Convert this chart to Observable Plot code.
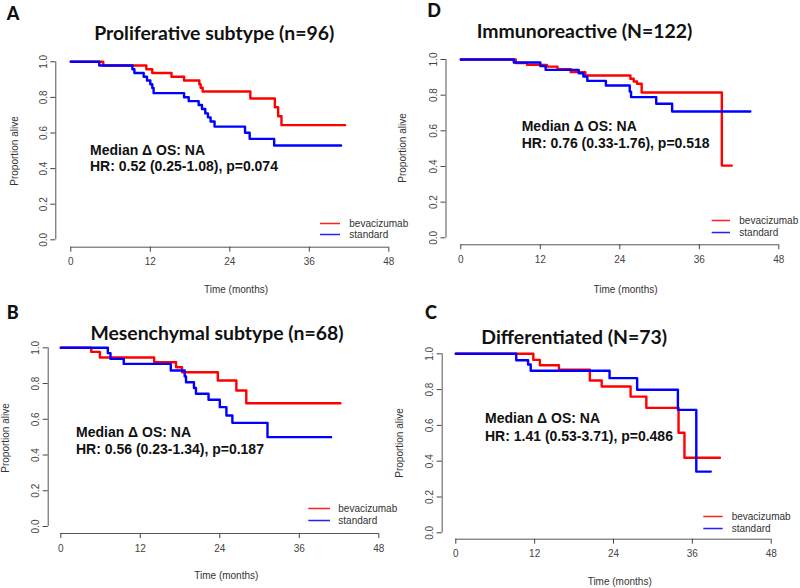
<!DOCTYPE html>
<html>
<head>
<meta charset="utf-8">
<script src="https://cdn.jsdelivr.net/npm/d3@7"></script>
<script src="https://cdn.jsdelivr.net/npm/@observablehq/plot@0.6"></script>
<style>
  body { margin: 0; background: #fff; }
  #fig { position: relative; width: 800px; height: 588px; overflow: hidden; background: #fff;
         font-family: "Liberation Sans", Arial, sans-serif; }
  .abs { position: absolute; white-space: nowrap; line-height: 1; }
  .c { transform: translate(-50%, -50%); }
  .lc { transform: translate(0, -50%); }
  .title { font-family: Lato, "Open Sans", sans-serif; font-weight: 700; font-size: 19.4px; color: #111; }
  .letter { font-family: Lato, sans-serif; font-weight: 900; font-size: 18px; color: #111; }
  .ann { font-weight: 700; font-size: 14px; color: #111; }
  .lab { font-size: 10px; color: #333; }
  .ylab { transform: translate(-50%, -50%) rotate(-90deg); }
  .leg { font-size: 10px; color: #333; }
  .legsvg { position: absolute; left: 0; top: 0; pointer-events: none; }
</style>
</head>
<body>
<div id="fig"></div>
<script>
// ---------- data ----------
const xTicks = [0, 12, 24, 36, 48];
const yTicks = [0, 0.2, 0.4, 0.6, 0.8, 1.0];
const seriesNames = ["bevacizumab", "standard"];
const seriesColors = ["#ff0000", "#0000ff"];
const legendColors = ["#ff2020", "#2020ff"];
const panelLetters = ["A", "D", "B", "C"];
const panelTitles = ["Proliferative subtype (n=96)", "Immunoreactive (N=122)", "Mesenchymal subtype (n=68)", "Differentiated (N=73)"];
const medianTexts = ["Median \u0394 OS: NA", "Median \u0394 OS: NA", "Median \u0394 OS: NA", "Median \u0394 OS: NA"];
const hrTexts = ["HR: 0.52 (0.25-1.08), p=0.074", "HR: 0.76 (0.33-1.76), p=0.518", "HR: 0.56 (0.23-1.34), p=0.187", "HR: 1.41 (0.53-3.71), p=0.486"];
const xLabel = "Time (months)";
const yLabel = "Proportion alive";

// Panel A: Proliferative
const A_bev_t = [0, 4.9, 11.4, 12.3, 15.2, 17.1, 19.4, 19.6, 19.9, 27.1, 30.8, 31.3, 31.8, 41.4];
const A_bev_s = [1, 0.979, 0.958, 0.937, 0.916, 0.895, 0.874, 0.854, 0.833, 0.794, 0.745, 0.694, 0.644, 0.644];
const A_std_t = [0, 4.3, 9.3, 9.6, 11.0, 11.5, 12.0, 12.3, 12.5, 17.1, 17.8, 19.3, 19.8, 20.3, 20.7, 21.1, 21.7, 26.3, 27.0, 30.7, 40.8];
const A_std_s = [1, 0.979, 0.958, 0.937, 0.916, 0.895, 0.874, 0.853, 0.824, 0.801, 0.779, 0.757, 0.735, 0.71, 0.688, 0.665, 0.636, 0.601, 0.567, 0.530, 0.530];
// Panel D: Immunoreactive
const D_bev_t = [0, 8.3, 10.0, 13.0, 14.6, 16.6, 18.8, 25.6, 26.1, 26.6, 27.3, 39.4, 40.9];
const D_bev_s = [1, 0.98, 0.97, 0.96, 0.946, 0.929, 0.91, 0.892, 0.877, 0.864, 0.815, 0.405, 0.405];
const D_std_t = [0, 8.0, 12.0, 12.8, 17.8, 18.5, 19.1, 21.9, 25.5, 25.7, 29.5, 31.9, 43.7];
const D_std_s = [1, 0.983, 0.963, 0.942, 0.923, 0.905, 0.88, 0.854, 0.82, 0.789, 0.752, 0.708, 0.708];
// Panel B: Mesenchymal
const B_bev_t = [0, 4.6, 5.9, 14.1, 17.4, 18.3, 23.7, 26.5, 28.0, 42.2];
const B_bev_s = [1, 0.977, 0.946, 0.919, 0.891, 0.863, 0.817, 0.761, 0.690, 0.690];
const B_std_t = [0, 7.1, 7.5, 9.5, 16.6, 18.7, 18.9, 20.1, 20.4, 22.3, 24.0, 25.0, 25.9, 31.2, 40.8];
const B_std_s = [1, 0.97, 0.938, 0.91, 0.873, 0.84, 0.807, 0.775, 0.743, 0.709, 0.668, 0.621, 0.58, 0.50, 0.50];
// Panel C: Differentiated
const C_bev_t = [0, 11.8, 12.8, 15.7, 20.4, 22.2, 26.6, 29.0, 33.9, 34.8, 40.2];
const C_bev_s = [1, 0.966, 0.936, 0.911, 0.851, 0.817, 0.761, 0.698, 0.559, 0.419, 0.419];
const C_std_t = [0, 9.2, 11.0, 11.4, 23.4, 27.6, 33.8, 36.6, 38.8];
const C_std_s = [1, 0.964, 0.94, 0.905, 0.864, 0.799, 0.687, 0.342, 0.342];

const panelSeries = [
  [[A_bev_t, A_bev_s], [A_std_t, A_std_s]],
  [[D_bev_t, D_bev_s], [D_std_t, D_std_s]],
  [[B_bev_t, B_bev_s], [B_std_t, B_std_s]],
  [[C_bev_t, C_bev_s], [C_std_t, C_std_s]]
];

// ---------- layout (page pixels) ----------
const layout = [
  { left: 0, top: 0, mL: 55.3, mR: 11.7, mT: 61.3, mB: 47.3, inL: 15, inB: 7.4,
    letter: [13, 13], title: [214.2, 32.7], ylab: [15, 151], xlab: [236, 290],
    ann: [90, 149.5, 166.2], leg: { x1: 320, x2: 340, y1: 223, y2: 234, tx: 349.3 } },
  { left: 400, top: 0, mL: 45.5, mR: 21.7, mT: 59, mB: 49.7, inL: 14.8, inB: 7,
    letter: [434, 9.5], title: [584.5, 31.2], ylab: [403.3, 148], xlab: [625.5, 290],
    ann: [521.7, 126.2, 142.8], leg: { x1: 711.7, x2: 730, y1: 220, y2: 232, tx: 739.3 } },
  { left: 0, top: 294, mL: 47.7, mR: 21.7, mT: 53.3, mB: 55, inL: 12.6, inB: 7,
    letter: [12.8, 312], title: [217, 332.5], ylab: [6, 437.5], xlab: [226.3, 575.7],
    ann: [76, 432.2, 448.8], leg: { x1: 308.3, x2: 330, y1: 508, y2: 520, tx: 338.3 } },
  { left: 400, top: 294, mL: 41.7, mR: 29.3, mT: 59.3, mB: 49.3, inL: 13.6, inB: 6.4,
    letter: [431, 312], title: [574.2, 337], ylab: [400, 443], xlab: [619.7, 582],
    ann: [485, 418, 435.5], leg: { x1: 703.3, x2: 722.7, y1: 516, y2: 528, tx: 731.7 } }
];

const fig = document.getElementById("fig");
const fmt = d3.format(".1f");

function addText(cls, text, x, y) {
  const d = document.createElement("div");
  d.className = "abs " + cls;
  d.textContent = text;
  d.style.left = x + "px";
  d.style.top = y + "px";
  fig.appendChild(d);
  return d;
}

const NS = "http://www.w3.org/2000/svg";

layout.forEach((L, p) => {
  const series = panelSeries[p].map(([ts, ss], k) => ts.map((t, i) => ({ t, s: ss[i], k })));
  const svg = Plot.plot({
    width: 400, height: 294,
    marginLeft: L.mL, marginRight: L.mR, marginTop: L.mT, marginBottom: L.mB,
    x: { domain: [xTicks[0], xTicks[xTicks.length - 1]], insetLeft: L.inL },
    y: { domain: [yTicks[0], yTicks[yTicks.length - 1]], insetBottom: L.inB },
    style: { fontFamily: "Liberation Sans, Arial, sans-serif", fontSize: "10px", background: "transparent", overflow: "visible" },
    marks: [
      Plot.ruleY([yTicks[0]], { x1: xTicks[0], x2: xTicks[xTicks.length - 1], dy: L.inB, stroke: "#555", strokeWidth: 1 }),
      Plot.ruleX([xTicks[0]], { y1: yTicks[0], y2: yTicks[yTicks.length - 1], dx: -L.inL, stroke: "#555", strokeWidth: 1 }),
      Plot.axisX({ ticks: xTicks, tickSize: 5, tickPadding: 6, label: null, color: "#444" }),
      Plot.axisY({ ticks: yTicks, tickSize: 5, tickRotate: -90, tickFormat: fmt, label: null, color: "#444" }),
      Plot.line(series[0], { x: "t", y: "s", curve: "step-after", stroke: seriesColors[0], strokeWidth: 2.4 }),
      Plot.line(series[1], { x: "t", y: "s", curve: "step-after", stroke: seriesColors[1], strokeWidth: 2.4 })
    ]
  });
  svg.style.position = "absolute";
  svg.style.left = L.left + "px";
  svg.style.top = L.top + "px";
  fig.appendChild(svg);

  addText("letter c", panelLetters[p], L.letter[0], L.letter[1]);
  addText("title c", panelTitles[p], L.title[0], L.title[1]);
  addText("lab ylab", yLabel, L.ylab[0], L.ylab[1]);
  addText("lab c", xLabel, L.xlab[0], L.xlab[1]);
  addText("ann lc", medianTexts[p], L.ann[0], L.ann[1]);
  addText("ann lc", hrTexts[p], L.ann[0], L.ann[2]);

  [L.leg.y1, L.leg.y2].forEach((yy, k) => {
    addText("leg lc", seriesNames[k], L.leg.tx, yy + 0.5);
  });
});

// legend key lines in one overlay svg
const ov = document.createElementNS(NS, "svg");
ov.setAttribute("class", "legsvg");
ov.setAttribute("width", 800);
ov.setAttribute("height", 588);
layout.forEach((L) => {
  [L.leg.y1, L.leg.y2].forEach((yy, k) => {
    const ln = document.createElementNS(NS, "line");
    ln.setAttribute("x1", L.leg.x1);
    ln.setAttribute("x2", L.leg.x2);
    ln.setAttribute("y1", yy + 0.5);
    ln.setAttribute("y2", yy + 0.5);
    ln.setAttribute("stroke", legendColors[k]);
    ln.setAttribute("stroke-width", 1.5);
    ov.appendChild(ln);
  });
});
fig.appendChild(ov);
</script>
</body>
</html>
